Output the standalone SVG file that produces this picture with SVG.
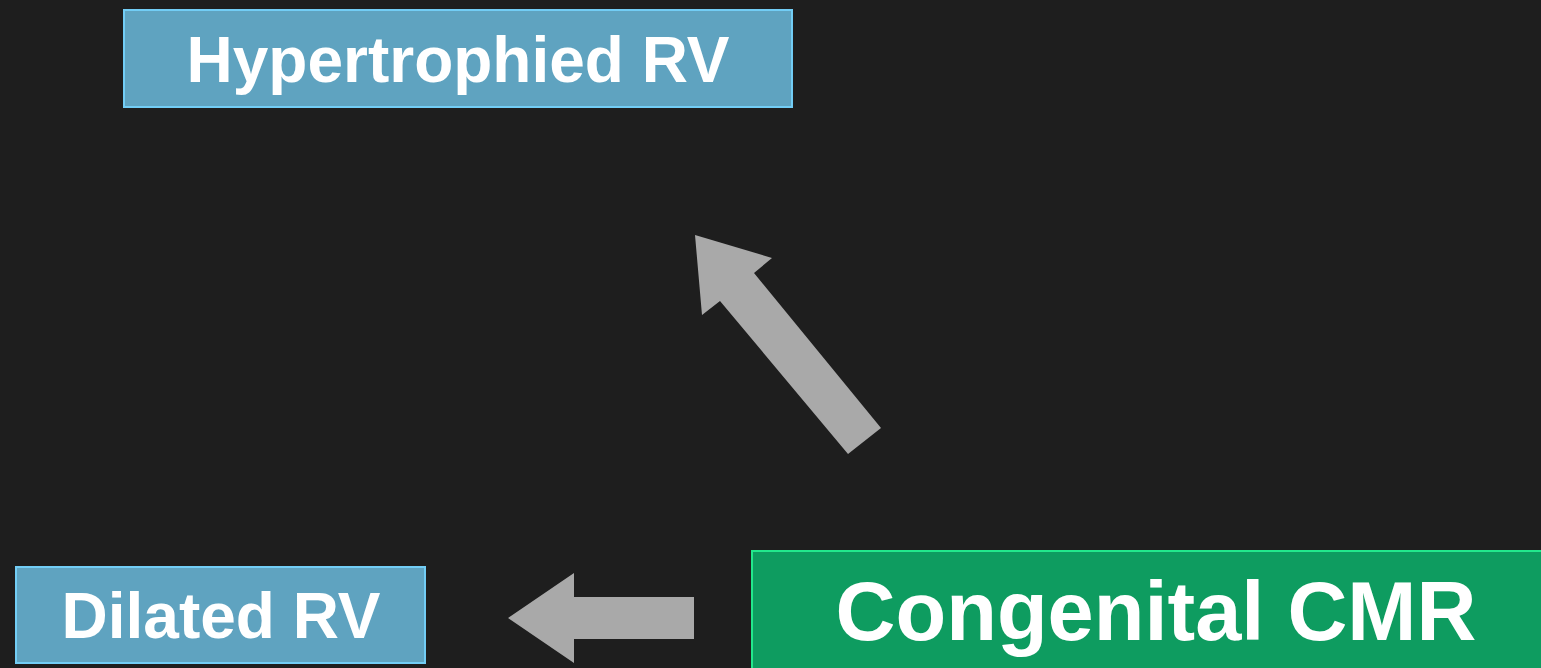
<svg xmlns="http://www.w3.org/2000/svg" width="1541" height="668" viewBox="0 0 1541 668">
<style>
.bg{fill:#1e1e1e}
.blue{fill:#5fa3c0;stroke:#72cdf5;stroke-width:2}
.green{fill:#0e9c60;stroke:#22e88c;stroke-width:2}
.t{font-family:"Liberation Sans",Arial,sans-serif;font-weight:bold;fill:#ffffff;text-anchor:middle}
.arrow{fill:#a9a9a9}
</style>
<rect class="bg" x="0" y="0" width="1541" height="668"/>
<g id="hypertrophied">
<rect class="blue" x="124" y="10" width="668" height="97"/>
<text class="t" x="458" y="82" font-size="64">Hypertrophied RV</text>
</g>
<g id="dilated">
<rect class="blue" x="16" y="567" width="409" height="96"/>
<text class="t" x="221" y="638" font-size="64">Dilated RV</text>
</g>
<g id="congenital">
<rect class="green" x="752" y="551" width="810" height="130"/>
<text class="t" x="1156" y="640" font-size="83">Congenital CMR</text>
</g>
<g id="connectors">
<polygon class="arrow" points="695,235 772,258 754,273 881,428 848,454 720,301 702,315"/>
<polygon class="arrow" points="508,618 574,573 574,597 694,597 694,639 574,639 574,663"/>
</g>
</svg>
